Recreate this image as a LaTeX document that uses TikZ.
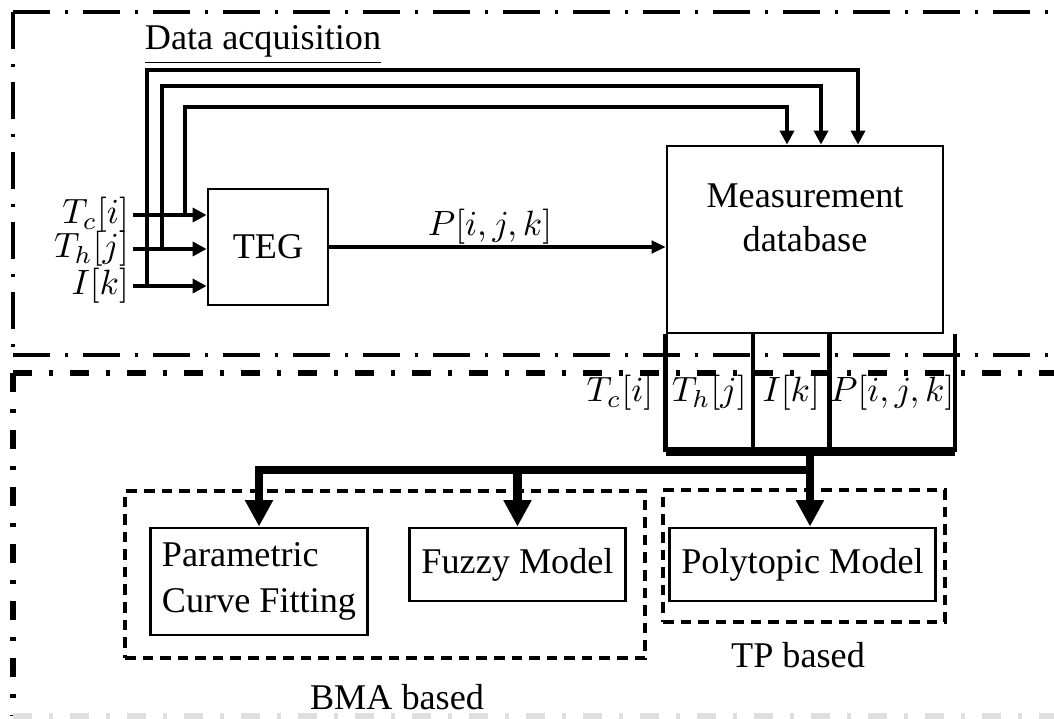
\documentclass[tikz,border=0pt]{standalone}
\usepackage{amsmath}
\usepackage{fontspec}
\setmainfont{Liberation Serif}
\usetikzlibrary{arrows.meta}

\begin{document}
\begin{tikzpicture}[font=\fontsize{10.3}{12.5}\selectfont,
    box/.style={draw, line width=0.8pt},
    cell/.style={minimum height=1.16cm, inner sep=0pt},
    inarrow/.style={line width=1.3pt, -{Triangle[length=4pt,width=4pt]}},
    bus/.style={line width=2.4pt},
    busarrow/.style={line width=2.4pt, -{Triangle[length=7.5pt,width=7.5pt]}},
    groupbox/.style={draw, line width=0.9pt, dash pattern=on 3pt off 2pt},
    upperframe/.style={line width=1.2pt, dash pattern=on 0.37cm off 0.15cm on 0.03cm off 0.15cm},
    lowerframe/.style={line width=1.7pt, dash pattern=on 0.19cm off 0.17cm on 0.04cm off 0.17cm}]

\useasboundingbox (0,0) rectangle (10.54,7.18);

%% frames
\draw[upperframe] (0.13,7.06) -- (10.54,7.06);
\draw[upperframe] (0.13,7.06) -- (0.13,3.63);
\draw[upperframe] (0.13,3.63) -- (10.54,3.63);
\draw[lowerframe] (0.13,3.45) -- (10.54,3.45);
\draw[lowerframe] (0.13,3.45) -- (0.13,0.02);
\draw[lowerframe, gray!25] (0.13,0.02) -- (10.54,0.02);

\node (acq) at (2.63,6.73) {\underline{Data acquisition}};

%% blocks
\node[box, minimum width=1.2cm, minimum height=1.16cm] (teg) at (2.68,4.71) {TEG};
\node[box, minimum width=2.76cm, minimum height=1.87cm] (db) at (8.05,4.785) {};
\node[align=center] (dbtext) at (8.05,5.0) {Measurement\\database};

%% inputs
\coordinate (tcin) at (1.33,5.03);
\coordinate (thin) at (1.33,4.69);
\coordinate (ikin) at (1.33,4.32);
\node[anchor=east, inner sep=1pt] (tc) at (tcin) {$T_c[i]$};
\node[anchor=east, inner sep=1pt] (th) at (thin) {$T_h[j]$};
\node[anchor=east, inner sep=1pt] (ik) at (ikin) {$I[k]$};
\draw[inarrow] (tcin) -- (tcin -| teg.west);
\draw[inarrow] (thin) -- (thin -| teg.west);
\draw[inarrow] (ikin) -- (ikin -| teg.west);

%% branches to the database
\coordinate (tcup) at (1.85,6.11);
\coordinate (thup) at (1.62,6.32);
\coordinate (ikup) at (1.47,6.48);
\draw[inarrow] (tcup |- tcin) -- (tcup) -| ([xshift=-0.18cm]db.north);
\draw[inarrow] (thup |- thin) -- (thup) -| ([xshift=0.16cm]db.north);
\draw[inarrow] (ikup |- ikin) -- (ikup) -| ([xshift=0.53cm]db.north);

\draw[line width=0.9pt, -{Triangle[length=4pt,width=3.6pt]}] (teg.east) -- (teg.east -| db.west);
\node (pval) at (4.90,4.91) {$P[i,j,k]$};

%% table below the database
\node[cell, minimum width=0.86cm, anchor=north west] (thcell) at (db.south west) {$T_h[j]$};
\node[cell, minimum width=0.75cm, anchor=north west] (ikcell) at (thcell.north east) {$I[k]$};
\node[cell, minimum width=1.15cm, anchor=north west] (pcell) at (ikcell.north east) {$P[i,j,k]$};
\node[anchor=east] (tccell) at (thcell.west) {$T_c[i]$};
\draw[line width=1.3pt] (thcell.north west) -- (thcell.south west);
\draw[line width=1.3pt] (ikcell.north west) -- (ikcell.south west);
\draw[line width=1.3pt] (pcell.north west) -- (pcell.south west);
\draw[line width=1.3pt] (pcell.north east) -- (pcell.south east);
\draw[line width=2.6pt] (thcell.south west) -- (pcell.south east);

%% models
\node[box, minimum width=2.12cm, minimum height=1.07cm, align=left,
      font=\fontsize{10.3}{13}\selectfont] (param) at (2.59,1.365) {Parametric\\Curve Fitting};
\node[box, minimum width=2.11cm, minimum height=0.73cm] (fuzzy) at (5.175,1.535) {Fuzzy Model};
\node[box, minimum width=2.59cm, minimum height=0.73cm] (poly) at (8.025,1.535) {Polytopic Model};

\node[groupbox, minimum width=5.2cm, minimum height=1.67cm] (bma) at (3.85,1.435) {};
\node[groupbox, minimum width=2.82cm, minimum height=1.32cm] (tp) at (8.04,1.62) {};
\node (bmatext) at (3.97,0.21) {BMA based};
\node (tptext) at (7.98,0.63) {TP based};

%% bus
\coordinate (split) at (8.10,2.48);
\draw[bus] (split |- thcell.south) -- (split);
\draw[busarrow] (split) -| (param.north);
\draw[busarrow] (split -| fuzzy.north) -- (fuzzy.north);
\draw[busarrow] (split) -- (split |- poly.north);
\end{tikzpicture}
\end{document}
